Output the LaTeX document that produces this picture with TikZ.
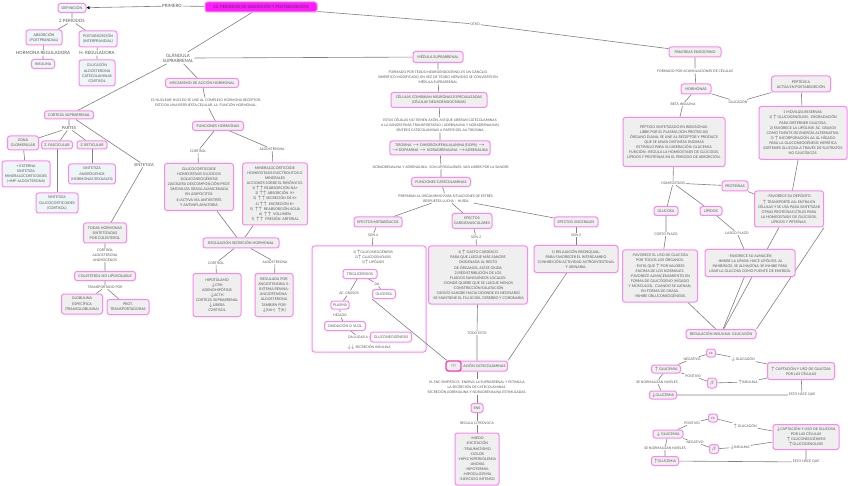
\documentclass[tikz,border=0pt]{standalone}
\usepackage{fontspec}
\setmainfont{Lato}
\usetikzlibrary{positioning,arrows.meta,backgrounds}
\definecolor{pinkb}{HTML}{FF85F0}
\definecolor{boxg}{HTML}{EFEFEF}
\definecolor{boxb}{HTML}{EEF5F7}
\definecolor{txt}{HTML}{555555}
\definecolor{lineg}{HTML}{808080}
\definecolor{titlem}{HTML}{FF1AFF}

\begin{document}
\begin{tikzpicture}[x=1pt,y=-1pt,
  font=\fontsize{3.6}{5.1}\selectfont,
  box/.style={draw=pinkb,line width=1pt,rounded corners=2.5pt,fill=boxg,text=txt,align=center,inner xsep=2pt,inner ysep=1pt},
  bbox/.style={box,fill=boxb},
  wbox/.style={box,fill=white},
  ttl/.style={box,fill=titlem,text=black!75,font=\fontsize{4}{5}\selectfont},
  qbox/.style={box,draw=magenta!70,line width=1.4pt},
  lbl/.style={text=txt,align=center,inner sep=0.8pt,font=\fontsize{3.4}{5}\selectfont},
  mlbl/.style={lbl,font=\fontsize{4}{5}\selectfont},
  blbl/.style={lbl,font=\fontsize{4.4}{5.6}\selectfont},
  con/.style={draw=lineg,line width=0.6pt}
]
\useasboundingbox (0,0) rectangle (848,486);
% ---- title ----
\node[ttl,minimum width=112,minimum height=10] (title) at (261,7) {20. PERIODOS DE ABSORCIÓN Y POSTABSORCIÓN};
\node[blbl] (lprim) at (172,6) {PRIMERO};
\node[lbl] (lotro) at (475,24) {OTRO};
\node[blbl] (lglan) at (178,58) {GLÁNDULA\\SUPRARRENAL};
% ---- definicion ----
\node[bbox,minimum width=28,minimum height=9] (defi) at (72,8) {DEFINICIÓN};
\node[blbl] (lper) at (72,21) {2 PERIODOS};
\node[bbox,minimum width=36,minimum height=15] (absor) at (44,37.5) {ABSORCIÓN\\(POSTPRANDIAL)};
\node[bbox,minimum width=38,minimum height=16] (postab) at (98,39) {POSTABSORCIÓN\\(INTERPRANDIAL)};
\node[blbl] (lhr) at (43,53) {HORMONA REGULADORA};
\node[blbl] (lhr2) at (97,53) {H. REGULADORA};
\node[bbox,minimum width=23,minimum height=9] (insu) at (43,64) {INSULINA};
\node[bbox,minimum width=36,minimum height=26] (gluc) at (97,73) {GLUCAGÓN\\ALDOSTERONA\\CATECOLAMINAS\\CORTISOL};
% ---- corteza ----
\node[box,minimum width=49,minimum height=8] (cort) at (69,115) {CORTEZA SUPRARRENAL};
\node[mlbl] (lpart) at (69,128) {PARTES};
\node[box,minimum width=31,minimum height=14] (zglo) at (23,143) {ZONA\\GLOMERULAR};
\node[box,minimum width=31,minimum height=8] (zfas) at (57,145) {Z. FASCICULAR};
\node[box,minimum width=30,minimum height=8] (zret) at (92,145) {Z. RETICULAR};
\node[bbox,minimum width=48,minimum height=26] (ext) at (26,174) {+ EXTERNA\\SINTETIZA\\MINERALOCORTICOIDES\\(+IMP ALDOSTERONA)};
\node[bbox,minimum width=47,minimum height=20] (sand) at (92,174) {SINTETIZA\\ANDRÓGENOS\\(HORMONAS SEXUALES)};
\node[bbox,minimum width=42,minimum height=20] (sglu) at (57,203) {SINTETIZA\\GLUCOCORTICOIDES\\(CORTISOL)};
\node[mlbl] (lsint) at (144,165) {SINTETIZA};
\node[box,minimum width=43,minimum height=20] (todas) at (105,233) {TODAS HORMONAS\\SINTETIZADAS\\POR COLESTEROL};
\node[lbl] (lhor) at (105,255) {CORTISOL\\ALDOSTERONA\\ANDRÓGENOS};
\node[box,minimum width=61,minimum height=9] (cole) at (105,276) {COLESTEROL NO LIPOSOLUBLE};
\node[lbl] (ltra) at (105,287) {TRANSPORTADO POR};
\node[box,minimum width=41,minimum height=20] (glob) at (82,304) {GLOBULINA\\ESPECÍFICA\\(TRANSGLOBULINA)};
\node[box,minimum width=42,minimum height=15] (prot) at (128,307) {PROT.\\TRANSPORTADORAS};
% ---- mecanismo ----
\node[box,minimum width=73,minimum height=9] (meca) at (202,83) {MECANISMO DE ACCIÓN HORMONAL};
\node[lbl] (lnuc) at (206,103) {EL NUCLEAR: NÚCLEO SE UNE AL COMPLEJO HORMONA RECEPTOR.\\ESTO DA UNA RESPUESTA CELULAR, LA \ FUNCIÓN HORMONAL.};
\node[box,minimum width=51,minimum height=9] (funh) at (218,126) {FUNCIONES HORMONAS};
\node[lbl] (lcort1) at (198,151) {CORTISOL};
\node[lbl] (lald1) at (272,149) {ALDOSTERONA};
\node[box,minimum width=69,minimum height=47] (gcort) at (199,187) {GLUCOCORTICOIDE\\HOMEOSTASIS GLÚCIDOS\\1)GLUCONEOGÉNESIS\\2)ACELERA DESCOMPOSICIÓN PROT.\\3)MOVILIZA GRASA ALMACENADA\\EN ADIPOCITOS\\4) ACTIVA VÍA ANTIESTRÉS\\Y ANTIINFLAMATORIA};
\node[box,minimum width=65,minimum height=62] (mcort) at (275,194) {MINERALOCORTICOIDE\\HOMEOSTASIS ELECTROLITOS O\\MINERALES\\ACCIONES SOBRE EL RIÑÓN E ID:\\1) $\uparrow\uparrow$ REABSORCIÓN NA+\\2) $\uparrow\uparrow$ ABSORCIÓN \ K+\\3) \ $\uparrow\uparrow$ SECRECIÓN DE K+\\4) $\uparrow\uparrow$ \ EXCRECIÓN K+\\5) \ $\uparrow\uparrow$ \ REABSORCIÓN AGUA\\6) \ $\uparrow\uparrow$ \ VOLUMEN\\7) \ $\uparrow\uparrow$ \ PRESIÓN \ ARTERIAL};
\node[box,minimum width=76,minimum height=10] (regs) at (241,243) {REGULACIÓN SECRECIÓN HORMONAL};
\node[lbl] (lcort2) at (216,263) {CORTISOL};
\node[lbl] (lald2) at (275,262) {ALDOSTERONA};
\node[box,minimum width=48,minimum height=43] (hipo) at (217,295) {HIPOTÁLAMO\\$\downarrow$CRH\\ADENOHIPÓFISIS\\$\downarrow$ACTH\\CORTEZA SUPRARRENAL\\$\downarrow$LIBERA\\CORTISOL};
\node[box,minimum width=38,minimum height=43] (rega) at (274,295) {REGULADA POR\\ANGIOTENSINA II :\\SISTEMA RENINA-\\ANGIOTENSINA-\\ALDOSTERONA\\TAMBIEN POR:\\$\downarrow$[NA+] \ $\uparrow$[K]};
% ---- medula ----
\node[box,minimum width=50,minimum height=11] (medu) at (438,57) {MÉDULA SUPRARRENAL};
\node[lbl] (lform) at (438,77) {FORMADO POR TEJIDO NEUROENDOCRINO. ES UN GÁNGLIO\\SIMPÁTICO MODIFICADO, EN VEZ DE TEJIDO NERVIOSO SE CONVIERTE EN\\MÉDULA SUPRARRENAL};
\node[box,minimum width=96,minimum height=15] (celu) at (439,100) {CÉLULAS COMBINAN NEURONAS ESPECIALIZADAS\\(CÉLULAS NEUROENDOCRINAS)};
\node[lbl] (lesta) at (440,125) {ESTAS CÉLULAS NO TIENEN AXÓN, ASÍ QUE LIBERAN CATECOLAMINAS\\A LA SANGRE PARA TRANSPORTARLO ( ADRENALINA Y NORADRENALINA)\\SÍNTESIS CATECOLAMINAS A PARTIR DEL AA TIROSINA};
\node[box,minimum width=97,minimum height=14] (tiro) at (440,148) {TIROSINA $\rightarrow$ DIHIDROXIFENILALANINA (DOPA) $\rightarrow$\\$\rightarrow$DOPAMINA $\rightarrow$ NORADRENALINA $\rightarrow$ADRENALINA};
\node[lbl] (lnora) at (441,167) {NORADRENALINA Y ADRENALINA: \ SON LIPOSOLUBLES, VAN LIBRES POR LA SANGRE.};
\node[box,minimum width=59,minimum height=9] (funcat) at (441,182) {FUNCIONES CATECOLAMINAS};
\node[lbl] (lprep) at (446,198) {PREPARAN AL ORGANISMO PARA SITUACIONES DE ESTRÉS.\\RESPUESTA LUCHA - \ HUÍDA};
\node[box,minimum width=48,minimum height=10] (emet) at (378,222) {EFECTOS METABÓLICOS};
\node[box,minimum width=40,minimum height=15] (ecar) at (472,221) {EFECTOS\\CARDIOVASCULARES};
\node[box,minimum width=44,minimum height=10] (evis) at (576,222) {EFECTOS VISCERALES};
\node[lbl] (lson4) at (373,235) {SON 4};
\node[lbl] (lson2a) at (476,237) {SON 2};
\node[lbl] (lson2b) at (576,235) {SON 2};
\node[lbl] (mettx) at (373,257) {1) $\uparrow$GLUCONEOGÉNESIS\\2)$\uparrow$ GLUCOGENÓLISIS\\3)$\uparrow$ LIPÓLISIS};
\node[wbox,minimum width=34,minimum height=9] (trig) at (360,274) {TRIGLICÉRIDOS};
\node[lbl] (lacg) at (349,293) {ÁC. GRASOS};
\node[lbl] (lda) at (377,284) {DA};
\node[wbox,minimum width=23,minimum height=9] (glic) at (384,294) {GLICEROL};
\node[wbox,minimum width=13,minimum height=8] (plas) at (340,305) {PLASMA};
\node[lbl] (lhig) at (340,315) {HÍGADO};
\node[wbox,minimum width=41,minimum height=9] (oxi) at (345,326) {OXIDACIÓN O VLDL};
\node[lbl] (ldal) at (358,337) {DA LUGAR A};
\node[wbox,minimum width=41,minimum height=10] (gneo) at (391,337) {GLUCONEOGÉNESIS};
\node[lbl] (lsec) at (369,347) {$\downarrow\downarrow$ SECRECIÓN INSULINA};
\node[box,minimum width=99,minimum height=58] (cardb) at (478,275) {1) $\uparrow$ GASTO CARDÍACO\\PARA QUE LLEGUE MÁS SANGRE\\OXIGENADA AL RESTO\\DE ÓRGANOS, ASÍ SE OXIDA\\2) REDISTRIBUCIÓN DE LOS\\FLUIDOS SANGUÍNEOS LOCALES:\\-DONDE QUIERE QUE SE LLEGUE MENOS\\-CONSTRICCIÓN/DILATACIÓN\\-DESVÍO SANGRE HACIA DDONDE ES NECESARIO\\-SE MANTIENE EL FLUJO DEL CEREBRO Y CORONARIA};
\node[box,minimum width=84,minimum height=27] (visb) at (576,259) {1) RELAJACIÓN BRONQUIAL:\\PARA FAVORECER EL INTERCAMBIO\\2) INHIBICIÓN ACTIVIDAD ASTROINTESTINAL\\Y URINARIA.};
\node[lbl] (ltodo) at (477,333) {TODO ESTO};
\node[box,minimum width=61,minimum height=10] (libc) at (477,366) {\hspace*{15pt}ACIÓN CATECOLAMINAS};
\node[qbox,minimum width=15,minimum height=10] (qqq) at (453.5,366) {???};
\node[lbl] (lsnc) at (477,387) {EL SNC SIMPÁTICO: \ ENERVA LA SUPRARRENAL Y ESTIMULA\\LA SECRECIÓN DE CATECOLAMINAS.\\SECRECIÓN ADRENALINA Y NORADRENALINA ESTIMULADAS.};
\node[box,minimum width=12,minimum height=9] (sns) at (477,408) {SNS};
\node[lbl] (lreg) at (477,423) {REGULA O PROVOCA};
\node[box,minimum width=44,minimum height=52] (miedo) at (477,459) {-MIEDO\\-EXCITACIÓN\\-TRAUMATISMO\\-DOLOR\\-HIPO/HIPERVOLEMIA\\-ANOXIA\\-HIPOTERMIA\\-HIPOGLUCEMIA\\-EJERCICIO INTENSO};
% ---- pancreas ----
\node[box,minimum width=52,minimum height=10] (panc) at (695,52) {PÁNCREAS ENDOCRINO};
\node[lbl] (lacu) at (695,71) {FORMADO POR ACUMULACIONES DE CÉLULAS};
\node[box,minimum width=30,minimum height=10] (horm) at (696,89) {HORMONAS};
\node[lbl] (lbeta) at (683,104) {BETA INSULINA};
\node[lbl] (lglug) at (738,102) {GLUCAGÓN};
\node[box,minimum width=59,minimum height=16] (pept) at (801,84) {PEPTÍDICA\\ACTÚA EN POSTABSORCIÓN};
\node[box,minimum width=88,minimum height=53] (movi) at (803,133) {1 MOVILIZA RESERVAS:\\1) $\uparrow$ GLUCOGENÓLISIS: \ DEGRADACIÓN\\PARA OBTERNER GLUCOSA.\\2) FAVORECE LA LIPÓLISIS: ÁC. GRASOS\\COMO FUENTE DE ENERGÍA ALTERNATIVA.\\3) $\uparrow$ INCORPORACIÓN AA AL HÍGADO\\PARA LA GLUCONEOGÉNESIS HEPÁTICA\\(OBTENER GLUCOSA A TRAVÉS DE SUSTRATOS\\NO GLUCÍDICOS.};
\node[box,minimum width=102,minimum height=49] (insb) at (674,142) {PÉPTIDO SINTETIZADO EN RIBOSOMAS.\\LIBRE POR EL PLASMA (SON PROTEICAS)\\ÓRGANO DIANA: SE UNE AL RECEPTOR Y PRODUCE\\QUE SE UNAN DISTINTAS ENZIMAS\\ESTÍMULO PARA SU LIBERACIÓN: GLUCEMIA\\FUNCIÓN : REGULA LA HOMEOSTASIS DE GLÚCIDOS,\\LÍPIDOS Y PROTEÍNAS EN EL PERIODO DE ABSORCIÓN.};
\node[lbl] (lhom) at (673,183) {HOMEOSTASIS};
\node[box,minimum width=26,minimum height=10] (prote) at (735,186) {PROTEÍNAS};
\node[box,minimum width=24,minimum height=9] (glco) at (666,211) {GLUCOSA};
\node[box,minimum width=22,minimum height=9] (lipi) at (711,211) {LÍPIDOS};
\node[box,minimum width=69,minimum height=36] (depo) at (789,209) {-FAVORECE SU DEPÓSITO\\$\uparrow$ TRANSPORTE AA: ENTRA EN\\CÉLULAS Y SE USA PARA SINTETIZAR\\OTRAS PROTEÍNAS ÚTILES PARA\\LA HOMEOSTASIS DE GLÚCIDOS,\\LÍPIDOS Y PRTEÍNAS.};
\node[lbl] (lcorto) at (666,234) {CORTO PLAZO};
\node[lbl] (llargo) at (737,233) {LARGO PLAZO};
\node[box,minimum width=75,minimum height=52] (glbox) at (660,276) {-FAVORECE EL USO DE GLUCOSA\\POR TODOS LOS ÓRGANOS.\\-EVITA QUE $\uparrow$ POR VALORES\\ENCIMA DE LOS NORMALES.\\-FAVORECE ALMACENAMIENTO EN\\FORMA DE GLUCÓGENO (HÍGADO\\Y MÚSCULOS) . CUANDO SE LLENAN,\\EN FORMA DE GRASA.\\-INHIBE GRLUCONEOGÉNESIS.};
\node[box,minimum width=90,minimum height=27] (lpbox) at (750,263) {-FAVORECE SU ALMACÉN\\-INHIBE LA LIPASA: HACE LIPÓLISIS. AL\\INHIBIRLOS, SE ALMACENA. SE INHIBE PARA\\USAR LA GLUCOSA COMO FUENTE DE ENERGÍA.};
\node[box,minimum width=70,minimum height=9] (regig) at (721,334) {REGULACIÓN INSULINA- GLUCAGÓN};
% ---- graficos ----
\node[box,minimum width=9,minimum height=8] (alf1) at (711,353) {$\alpha$};
\node[lbl] (lneg1) at (692,359) {NEGATIVO};
\node[lbl] (ldglu1) at (743,359) {$\downarrow$ GLUCAGÓN};
\node[box,minimum width=29,minimum height=8] (upg1) at (666,369) {$\uparrow$ GLUCEMIA};
\node[lbl] (lpos1) at (693,376) {POSITIVO};
\node[box,minimum width=67,minimum height=17] (capt1) at (801,371) {$\uparrow$ CAPTACIÓN Y USO DE GLUCOSA\\POR LAS CÉLULAS};
\node[box,minimum width=9,minimum height=10] (bet1) at (712,383) {$\beta$};
\node[lbl] (luins1) at (748,382) {$\uparrow$INSULINA};
\node[lbl] (lnorm1) at (657,382) {SE NORMALIZAN NIVELES};
\node[box,minimum width=27,minimum height=8] (dng1) at (663,395) {$\downarrow$GLUCEMIA};
\node[lbl] (lesto1) at (802,395) {ESTO HACE QUE};
\node[box,minimum width=9,minimum height=8] (alf2) at (713,418) {$\alpha$};
\node[lbl] (lpos2) at (692,423) {POSITIVO};
\node[lbl] (luglu2) at (745,426) {$\uparrow$ GLUCAGÓN};
\node[box,minimum width=30,minimum height=8] (dng2) at (668,434) {$\downarrow$ GLUCEMIA};
\node[box,minimum width=66,minimum height=25] (capt2) at (806,437) {$\downarrow$CAPTACIÓN Y USO DE GLUCOSA\\POR LAS CÉLULAS\\$\uparrow$ GLUCONEOGÉNESIS\\$\uparrow$GLUCOGENOLISIS};
\node[lbl] (lneg2) at (695,442) {NEGATIVO};
\node[box,minimum width=9,minimum height=9] (bet2) at (714,449) {$\beta$};
\node[lbl] (ldins2) at (740,447) {$\downarrow$INSULINA};
\node[lbl] (lnorm2) at (665,448) {SE NORMALIZAN NIVELES};
\node[box,minimum width=27,minimum height=9] (upg2) at (665,461) {$\uparrow$GLUCEMIA};
\node[lbl] (lesto2) at (806,462) {ESTO HACE QUE};
% ---- connectors ----
\begin{scope}[on background layer]
\fill[white] (0,0) rectangle (848,486);
\node[wbox,minimum width=114,minimum height=106] (metb) at (369,299) {};
\draw[con] (title) -- (lprim);
\draw[con,-{Triangle[length=3pt,width=3pt,color=black]}] (lprim) -- (defi);
\draw[con] (title) -- (lglan);
\draw[con] (title) -- (lotro) -- (panc);
\draw[con] (lglan.east) -- (medu);
\draw[con] (lglan) -- (cort);
\draw[con] (lglan) -- (meca) -- (lnuc) -- (funh);
\draw[con] (funh) -- (lcort1) -- (gcort);
\draw[con] (funh) -- (lald1) -- (mcort);
\draw[con] (gcort) -- (regs);
\draw[con] (mcort) -- (regs);
\draw[con] (regs) -- (lcort2) -- (hipo);
\draw[con] (regs) -- (lald2) -- (rega);
\draw[con] (defi) -- (lper) -- (absor);
\draw[con] (lper) -- (postab);
\draw[con] (absor) -- (lhr) -- (insu);
\draw[con] (postab) -- (lhr2) -- (gluc);
\draw[con] (cort) -- (lpart) -- (zglo);
\draw[con] (lpart) -- (zfas);
\draw[con] (lpart) -- (zret);
\draw[con] (zglo) -- (ext);
\draw[con] (zfas) -- (sglu);
\draw[con] (zret) -- (sand);
\draw[con] (cort) -- (lsint) -- (todas) -- (lhor) -- (cole) -- (ltra) -- (glob);
\draw[con] (ltra) -- (prot);
\draw[con] (medu) -- (lform) -- (celu) -- (lesta) -- (tiro) -- (lnora) -- (funcat) -- (lprep);
\draw[con] (lprep) -- (emet);
\draw[con] (lprep) -- (ecar);
\draw[con] (lprep) -- (evis);
\draw[con] (emet) -- (lson4) -- (metb);
\draw[con] (ecar) -- (lson2a) -- (cardb);
\draw[con] (evis) -- (lson2b) -- (visb);
\draw[con] (trig) -- (lacg) -- (plas) -- (lhig) -- (oxi) -- (ldal) -- (gneo);
\draw[con] (trig) -- (lda) -- (glic);
\draw[con] (glic.south west) -- (qqq);
\draw[con] (cardb) -- (ltodo) -- (libc);
\draw[con] (visb) -- (libc.north east);
\draw[con] (libc) -- (lsnc) -- (sns) -- (lreg) -- (miedo);
\draw[con] (panc) -- (lacu) -- (horm) -- (lbeta) -- (insb);
\draw[con] (horm) -- (lglug) -- (pept) -- (movi);
\draw[con] (insb) -- (lhom) -- (prote) -- (depo);
\draw[con] (lhom) -- (glco) -- (lcorto) -- (glbox);
\draw[con] (lhom) -- (lipi) -- (llargo) -- (lpbox);
\draw[con] (movi) -- (depo);
\draw[con] (glbox) -- (regig);
\draw[con] (lpbox) -- (regig);
\draw[con] (depo) -- (regig);
\draw[con] (depo.south east) -- (regig.north east);
\draw[con] (upg1) -- (lneg1) -- (alf1) -- (ldglu1) -- (capt1);
\draw[con] (upg1) -- (lpos1) -- (bet1) -- (luins1) -- (capt1);
\draw[con] (upg1) -- (lnorm1) -- (dng1) -- (lesto1) -- (capt1);
\draw[con] (dng2) -- (lpos2) -- (alf2) -- (luglu2) -- (capt2);
\draw[con] (dng2) -- (lneg2) -- (bet2) -- (ldins2) -- (capt2);
\draw[con] (dng2) -- (lnorm2) -- (upg2) -- (lesto2) -- (capt2);
\end{scope}
\end{tikzpicture}
\end{document}
